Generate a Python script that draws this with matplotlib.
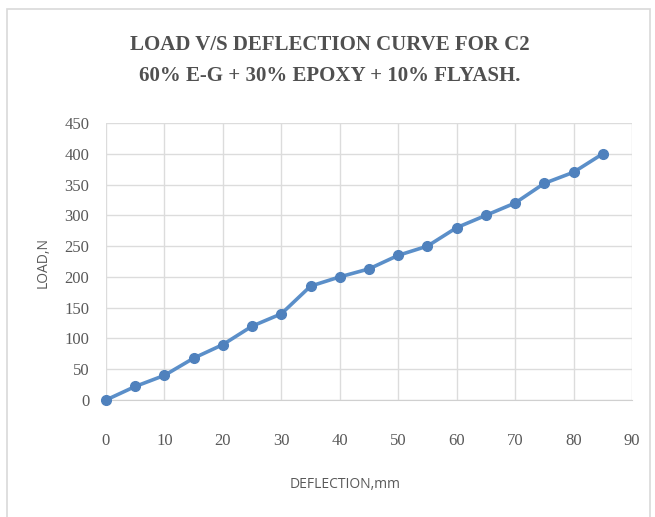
import matplotlib
matplotlib.use("Agg")
import matplotlib.pyplot as plt
from matplotlib.patches import Rectangle

# deflection (mm) vs load (N)
deflection = [0, 5, 10, 15, 20, 25, 30, 35, 40, 45, 50, 55, 60, 65, 70, 75, 80, 85]
load = [0, 22, 40, 68, 90, 120, 140, 185, 200, 213, 235, 250, 280, 300, 320, 352, 370, 400]

x_ticks = list(range(0, 100, 10))
y_ticks = list(range(0, 500, 50))

title_1 = "LOAD V/S DEFLECTION CURVE FOR C2"
title_2 = "60% E-G + 30% EPOXY + 10% FLYASH."

W, H = 655, 517
fig = plt.figure(figsize=(W / 100, H / 100), dpi=100)
fig.patch.set_facecolor("white")

# outer chart border
fig.patches.append(Rectangle((7 / W, -0.01), (650 - 7) / W, (H - 9) / H + 0.01,
                             transform=fig.transFigure, fill=False,
                             edgecolor="#d9d9d9", linewidth=1.2))

ax = fig.add_axes([106 / W, (H - 400) / H, (632 - 106) / W, (400 - 123) / H])
ax.plot(deflection, load, color="#5b8fc9", linewidth=2.6, marker="o",
        markersize=7, markerfacecolor="#4f81bd", markeredgecolor="#4f81bd",
        clip_on=False, zorder=3)

ax.set_xlim(0, 90)
ax.set_ylim(0, 450)
ax.set_xticks(x_ticks)
ax.set_yticks(y_ticks)
ax.grid(True, color="#dcdcdc", linewidth=1.0)
ax.set_axisbelow(True)
for side in ["left", "right", "top"]:
    ax.spines[side].set_visible(False)
ax.spines["bottom"].set_color("#d0d0d0")
ax.tick_params(length=0, colors="#595959")
ax.tick_params(axis="x", pad=24)
ax.tick_params(axis="y", pad=12)
for lab in ax.get_xticklabels() + ax.get_yticklabels():
    lab.set_family("Liberation Serif")
    lab.set_fontsize(12)
    lab.set_color("#595959")

fig.text(330 / W, 1 - 45 / H, title_1, ha="center", va="center",
         family="Liberation Serif", fontweight="bold", fontsize=15, color="#505050")
fig.text(330 / W, 1 - 76 / H, title_2, ha="center", va="center",
         family="Liberation Serif", fontweight="bold", fontsize=15, color="#505050")

fig.text(345 / W, 1 - 484 / H, "DEFLECTION,mm", ha="center", va="center",
         family="Open Sans", fontsize=10, color="#595959")
fig.text(43 / W, 1 - 263 / H, "LOAD,N", ha="center", va="center", rotation=90,
         family="Open Sans", fontsize=10, color="#595959")

fig.savefig("out.png", dpi=100)
